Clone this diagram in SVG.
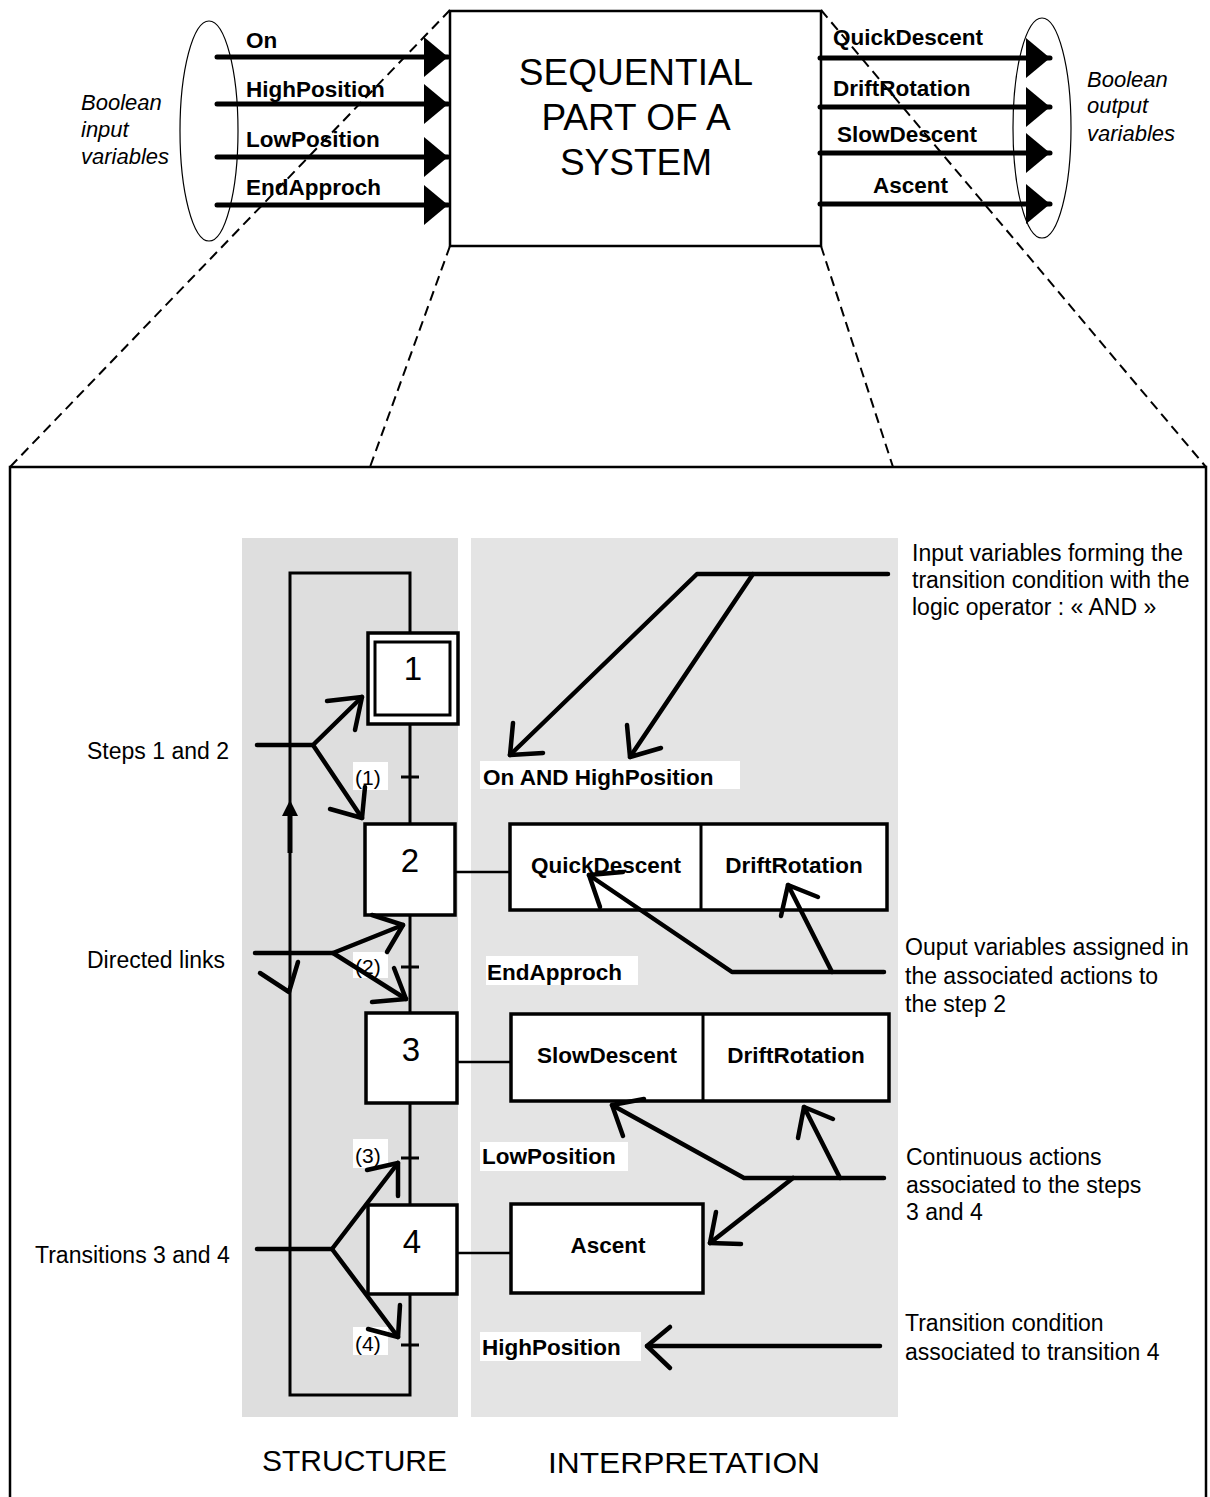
<svg xmlns="http://www.w3.org/2000/svg" width="1210" height="1497" viewBox="0 0 1210 1497">
  <style>
    text { font-family: "Liberation Sans", Arial, sans-serif; fill: #000; }
    .lbl { font-size: 22.5px; font-weight: bold; }
    .note { font-size: 23px; }
    .ital { font-size: 22px; font-style: italic; }
    .num { font-size: 33px; text-anchor: middle; }
    .tr { font-size: 21px; }
    .cap { font-size: 30px; }
    .big { font-size: 37px; text-anchor: middle; }
    .mid { text-anchor: middle; }
    .box { fill: #fff; stroke: #000; stroke-width: 3.5; }
    .wire { fill: none; stroke: #000; stroke-width: 3; }
    .thick { fill: none; stroke: #000; stroke-width: 5; stroke-linecap: round; }
    .ptr { fill: none; stroke: #000; stroke-width: 4.5; stroke-linecap: round; stroke-linejoin: round; }
    .dash { fill: none; stroke: #000; stroke-width: 2; stroke-dasharray: 10 6; }
    .bg { fill: #fff; }
  </style>
  <defs>
    <marker id="solid" markerUnits="userSpaceOnUse" markerWidth="24" markerHeight="40" refX="24" refY="20" orient="auto">
      <path d="M0,0 L24,20 L0,40 Z" fill="#000"/>
    </marker>
  </defs>

  <!-- frame of the detailed view -->
  <rect x="10" y="467" width="1196" height="1040" fill="none" stroke="#000" stroke-width="2.5"/>

  <!-- zoom guides from the black box to the detailed view -->
  <g id="guides">
    <line class="dash" x1="450" y1="10" x2="10" y2="467"/>
    <line class="dash" x1="450" y1="246" x2="370" y2="467"/>
    <line class="dash" x1="821" y1="246" x2="893" y2="467"/>
    <line class="dash" x1="821" y1="10" x2="1206" y2="467"/>
  </g>

  <!-- ===== top: the system as a black box ===== -->
  <g id="system">
    <rect x="450" y="11" width="371" height="235" fill="#fff" stroke="#000" stroke-width="2.5"/>
    <text class="big" x="636" y="85">SEQUENTIAL</text>
    <text class="big" x="636" y="130">PART OF A</text>
    <text class="big" x="636" y="175">SYSTEM</text>
  </g>

  <g id="inputs">
    <ellipse cx="209" cy="131" rx="29" ry="110" fill="none" stroke="#000" stroke-width="1.2"/>
    <text class="ital" x="81" y="110">Boolean</text>
    <text class="ital" x="81" y="137">input</text>
    <text class="ital" x="81" y="164">variables</text>
    <line class="thick" x1="217" y1="57" x2="448" y2="57" marker-end="url(#solid)"/>
    <line class="thick" x1="217" y1="104" x2="448" y2="104" marker-end="url(#solid)"/>
    <line class="thick" x1="217" y1="157" x2="448" y2="157" marker-end="url(#solid)"/>
    <line class="thick" x1="217" y1="205" x2="448" y2="205" marker-end="url(#solid)"/>
    <text class="lbl" x="246" y="48">On</text>
    <text class="lbl" x="246" y="97">HighPosition</text>
    <text class="lbl" x="246" y="147">LowPosition</text>
    <text class="lbl" x="246" y="195">EndApproch</text>
  </g>

  <g id="outputs">
    <ellipse cx="1042" cy="128" rx="29" ry="110" fill="none" stroke="#000" stroke-width="1.2"/>
    <text class="ital" x="1087" y="87">Boolean</text>
    <text class="ital" x="1087" y="113">output</text>
    <text class="ital" x="1087" y="141">variables</text>
    <line class="thick" x1="820" y1="58" x2="1050" y2="58" marker-end="url(#solid)"/>
    <line class="thick" x1="820" y1="107" x2="1050" y2="107" marker-end="url(#solid)"/>
    <line class="thick" x1="820" y1="153" x2="1050" y2="153" marker-end="url(#solid)"/>
    <line class="thick" x1="820" y1="204" x2="1050" y2="204" marker-end="url(#solid)"/>
    <text class="lbl" x="833" y="45">QuickDescent</text>
    <text class="lbl" x="833" y="96">DriftRotation</text>
    <text class="lbl" x="837" y="142">SlowDescent</text>
    <text class="lbl" x="873" y="193">Ascent</text>
  </g>

  <!-- ===== detailed view: panels ===== -->
  <rect x="242" y="538" width="216" height="879" fill="#dedede"/>
  <rect x="471" y="538" width="427" height="879" fill="#e4e4e4"/>
  <text class="cap" x="262" y="1471">STRUCTURE</text>
  <text class="cap" x="548" y="1473" textLength="272" lengthAdjust="spacingAndGlyphs">INTERPRETATION</text>

  <!-- ===== connectors: links, transitions and action links ===== -->
  <g id="connectors">
    <path class="wire" d="M410,633 V573 H290 V1395 H410 V1294"/>
    <line class="wire" x1="410" y1="724" x2="410" y2="824"/>
    <line class="wire" x1="410" y1="915" x2="410" y2="1013"/>
    <line class="wire" x1="410" y1="1103" x2="410" y2="1205"/>
    <!-- return arrow on the loop -->
    <line x1="290" y1="812" x2="290" y2="853" stroke="#000" stroke-width="5"/>
    <path d="M290,800 L298,816 L282,816 Z" fill="#000"/>
    <!-- transition ticks -->
    <line class="wire" x1="401" y1="777" x2="419" y2="777"/>
    <line class="wire" x1="401" y1="967" x2="419" y2="967"/>
    <line class="wire" x1="401" y1="1158" x2="419" y2="1158"/>
    <line class="wire" x1="401" y1="1345" x2="419" y2="1345"/>
    <!-- step to action links -->
    <line x1="455" y1="872" x2="510" y2="872" stroke="#000" stroke-width="2.5"/>
    <line x1="457" y1="1062" x2="511" y2="1062" stroke="#000" stroke-width="2.5"/>
    <line x1="457" y1="1253" x2="511" y2="1253" stroke="#000" stroke-width="2.5"/>
  </g>

  <!-- transition numbers -->
  <g id="transition-labels">
    <rect class="bg" x="353" y="762" width="35" height="28"/>
    <text class="tr" x="355" y="785">(1)</text>
    <rect class="bg" x="353" y="952" width="35" height="26"/>
    <text class="tr" x="355" y="974">(2)</text>
    <rect class="bg" x="353" y="1139" width="35" height="29"/>
    <text class="tr" x="355" y="1163">(3)</text>
    <rect class="bg" x="353" y="1327" width="35" height="28"/>
    <text class="tr" x="355" y="1351">(4)</text>
  </g>

  <!-- ===== steps ===== -->
  <g id="step-1">
    <rect class="box" x="368" y="633" width="90" height="91"/>
    <rect x="375" y="642" width="75" height="73" fill="#fff" stroke="#000" stroke-width="3"/>
    <text class="num" x="413" y="680">1</text>
  </g>
  <g id="step-2">
    <rect class="box" x="365" y="824" width="90" height="91"/>
    <text class="num" x="410" y="872">2</text>
  </g>
  <g id="step-3">
    <rect class="box" x="366" y="1013" width="91" height="90"/>
    <text class="num" x="411" y="1061">3</text>
  </g>
  <g id="step-4">
    <rect class="box" x="368" y="1205" width="89" height="89"/>
    <text class="num" x="412" y="1253">4</text>
  </g>

  <!-- ===== actions ===== -->
  <g id="actions-2">
    <rect class="box" x="510" y="824" width="377" height="86"/>
    <line x1="701" y1="824" x2="701" y2="910" stroke="#000" stroke-width="3"/>
    <text class="lbl mid" x="606" y="873">QuickDescent</text>
    <text class="lbl mid" x="794" y="873">DriftRotation</text>
  </g>
  <g id="actions-3">
    <rect class="box" x="511" y="1014" width="378" height="87"/>
    <line x1="703" y1="1014" x2="703" y2="1101" stroke="#000" stroke-width="3"/>
    <text class="lbl mid" x="607" y="1063">SlowDescent</text>
    <text class="lbl mid" x="796" y="1063">DriftRotation</text>
  </g>
  <g id="actions-4">
    <rect class="box" x="511" y="1204" width="192" height="89"/>
    <text class="lbl mid" x="608" y="1253">Ascent</text>
  </g>

  <!-- transition conditions -->
  <g id="conditions">
    <rect class="bg" x="480" y="761" width="260" height="28"/>
    <text class="lbl" x="483" y="785">On AND HighPosition</text>
    <rect class="bg" x="486" y="956" width="152" height="29"/>
    <text class="lbl" x="487" y="980">EndApproch</text>
    <rect class="bg" x="480" y="1142" width="148" height="29"/>
    <text class="lbl" x="482" y="1164">LowPosition</text>
    <rect class="bg" x="480" y="1332" width="161" height="29"/>
    <text class="lbl" x="482" y="1355">HighPosition</text>
  </g>

  <!-- ===== annotations on the left ===== -->
  <g id="note-steps">
    <text class="note" x="87" y="759">Steps 1 and 2</text>
    <polyline class="ptr" points="257,745 313,745 362,697"/>
    <polyline class="ptr" points="327,701 362,697 355,730"/>
    <line class="ptr" x1="313" y1="745" x2="362" y2="818"/>
    <polyline class="ptr" points="330,809 362,818 365,787"/>
  </g>
  <g id="note-links">
    <text class="note" x="87" y="968">Directed links</text>
    <polyline class="ptr" points="255,953 333,953 403,925"/>
    <polyline class="ptr" points="372,915 403,925 387,952"/>
    <line class="ptr" x1="333" y1="953" x2="406" y2="999"/>
    <polyline class="ptr" points="372,1002 406,999 394,968"/>
    <polyline class="ptr" points="260,973 289,992 298,962"/>
  </g>
  <g id="note-transitions">
    <text class="note" x="35" y="1263">Transitions 3 and 4</text>
    <polyline class="ptr" points="257,1249 332,1249 398,1163"/>
    <polyline class="ptr" points="367,1170 398,1163 398,1196"/>
    <line class="ptr" x1="332" y1="1249" x2="398" y2="1337"/>
    <polyline class="ptr" points="368,1329 398,1337 400,1305"/>
  </g>

  <!-- ===== annotations on the right ===== -->
  <g id="note-and">
    <text class="note" x="912" y="561">Input variables forming the</text>
    <text class="note" x="912" y="588">transition condition with the</text>
    <text class="note" x="912" y="615">logic operator : « AND »</text>
    <polyline class="ptr" points="888,574 697,574 510,755"/>
    <polyline class="ptr" points="513,723 510,755 543,753"/>
    <polyline class="ptr" points="753,574 630,757"/>
    <polyline class="ptr" points="627,725 630,757 661,748"/>
  </g>
  <g id="note-outputs">
    <text class="note" x="905" y="955">Ouput variables assigned in</text>
    <text class="note" x="905" y="984">the associated actions to</text>
    <text class="note" x="905" y="1012">the step 2</text>
    <polyline class="ptr" points="884,972 732,972 589,875"/>
    <polyline class="ptr" points="600,907 589,875 623,872"/>
    <polyline class="ptr" points="832,972 788,885"/>
    <polyline class="ptr" points="781,916 788,885 818,897"/>
  </g>
  <g id="note-continuous">
    <text class="note" x="906" y="1165">Continuous actions</text>
    <text class="note" x="906" y="1193">associated to the steps</text>
    <text class="note" x="906" y="1220">3 and 4</text>
    <polyline class="ptr" points="884,1178 744,1178 612,1105"/>
    <polyline class="ptr" points="623,1136 612,1105 644,1099"/>
    <polyline class="ptr" points="840,1178 804,1107"/>
    <polyline class="ptr" points="798,1138 804,1107 833,1119"/>
    <polyline class="ptr" points="793,1178 710,1243"/>
    <polyline class="ptr" points="716,1212 710,1243 741,1244"/>
  </g>
  <g id="note-condition">
    <text class="note" x="905" y="1331">Transition condition</text>
    <text class="note" x="905" y="1360">associated to transition 4</text>
    <line class="ptr" x1="880" y1="1346" x2="647" y2="1346"/>
    <polyline class="ptr" points="670,1327 647,1346 670,1368"/>
  </g>
</svg>
